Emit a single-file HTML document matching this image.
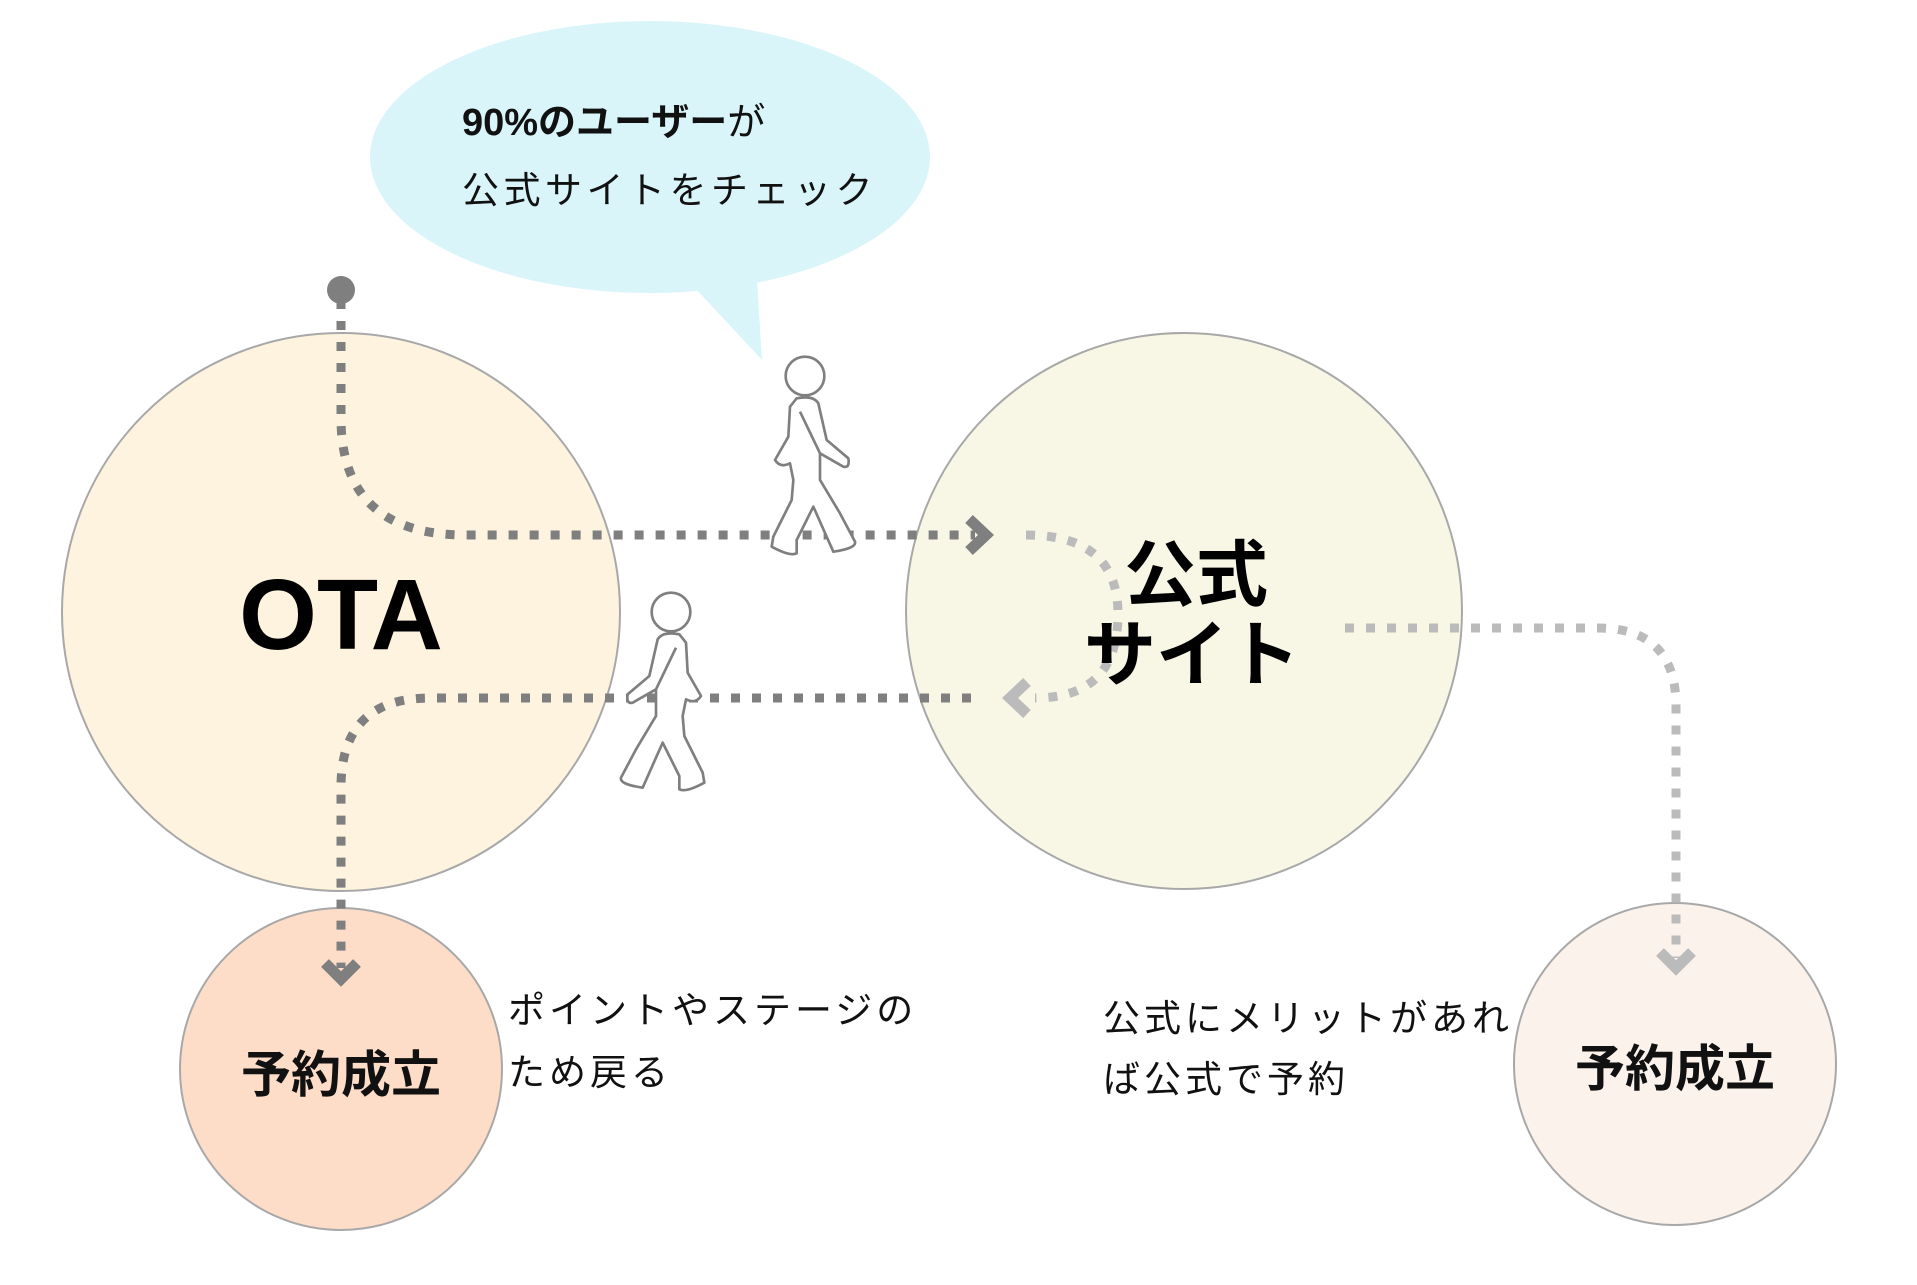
<!DOCTYPE html>
<html><head><meta charset="utf-8"><style>
html,body{margin:0;padding:0;background:#fff;}
svg{display:block;}
text{font-family:"Liberation Sans","Noto Sans CJK JP",sans-serif;}
</style></head><body>
<svg width="1917" height="1285" viewBox="0 0 1917 1285" xmlns="http://www.w3.org/2000/svg">
<ellipse cx="650" cy="157" rx="280" ry="136" fill="#d9f5fa"/>
<polygon points="695,288 757,280 762,360" fill="#d9f5fa"/>
<text x="462" y="135" font-size="38" font-weight="bold" fill="#111">90%のユーザー<tspan font-weight="normal">が</tspan></text>
<text x="462" y="203" font-size="37" fill="#111" letter-spacing="4.5">公式サイトをチェック</text>

<circle cx="341" cy="612" r="279" fill="#fdf3df" stroke="#a8a8a8" stroke-width="2"/>
<circle cx="1184" cy="611" r="278" fill="#f8f7e6" stroke="#a8a8a8" stroke-width="2"/>
<circle cx="341" cy="1069" r="161" fill="#fddcc8" stroke="#a8a8a8" stroke-width="2"/>
<circle cx="1675" cy="1064" r="161" fill="#fcf2ec" stroke="#a8a8a8" stroke-width="2"/>

<circle cx="341" cy="290" r="14" fill="#7f7f7f"/>
<path d="M341 300 V418 Q341 535 466 535 H975" fill="none" stroke="#7f7f7f" stroke-width="9" stroke-dasharray="9 12"/>
<polyline points="969,519 986,535 969,551" fill="none" stroke="#7f7f7f" stroke-width="11"/>
<path d="M971 698 H430 Q341 698 341 787 V968" fill="none" stroke="#7f7f7f" stroke-width="9" stroke-dasharray="9 12"/>
<polyline points="325,963 341,979 357,963" fill="none" stroke="#7f7f7f" stroke-width="11"/>

<path d="M1026 535 Q1118 535 1118 614 Q1118 698 1035 698" fill="none" stroke="#bbbbbb" stroke-width="9" stroke-dasharray="9 12"/>
<polyline points="1027,682 1010,698 1027,714" fill="none" stroke="#bbbbbb" stroke-width="11"/>
<path d="M1345 628 H1598 Q1676 628 1676 706 V958" fill="none" stroke="#bbbbbb" stroke-width="9" stroke-dasharray="9 12"/>
<polyline points="1660,952 1676,968 1692,952" fill="none" stroke="#bbbbbb" stroke-width="11"/>

<g fill="#fff" stroke="#7f7f7f" stroke-width="8" stroke-linejoin="round">
 <g transform="translate(805,376) scale(0.3333) translate(-615,-108)">
  <circle cx="615" cy="108" r="58"/>
  <path d="M590,175 Q640,165 655,190 L680,300 L745,355 Q750,385 730,380 L660,340 L660,420 L720,520 L765,605 Q770,625 700,635 L640,500 L590,600 L590,640 Q570,650 515,620 L520,590 L575,480 L580,420 L570,370 Q540,385 525,360 L565,290 L570,200 Z"/>
  <path d="M600,215 L660,340" fill="none"/>
 </g>
 <g transform="translate(671,612) scale(-0.3333,0.3333) translate(-615,-108)">
  <circle cx="615" cy="108" r="58"/>
  <path d="M590,175 Q640,165 655,190 L680,300 L745,355 Q750,385 730,380 L660,340 L660,420 L720,520 L765,605 Q770,625 700,635 L640,500 L590,600 L590,640 Q570,650 515,620 L520,590 L575,480 L580,420 L570,370 Q540,385 525,360 L565,290 L570,200 Z"/>
  <path d="M600,215 L660,340" fill="none"/>
 </g>
</g>

<text x="341" y="649" font-size="100" font-weight="bold" text-anchor="middle" fill="#000">OTA</text>
<text x="1196" y="600" font-size="72" font-weight="bold" text-anchor="middle" fill="#000">公式</text>
<text x="1192" y="680" font-size="72" font-weight="bold" text-anchor="middle" fill="#000">サイト</text>
<text x="341" y="1092" font-size="50" font-weight="bold" text-anchor="middle" fill="#111">予約成立</text>
<text x="1675" y="1086" font-size="50" font-weight="bold" text-anchor="middle" fill="#111">予約成立</text>
<text x="508" y="1023" font-size="37" fill="#111" letter-spacing="4">ポイントやステージの</text>
<text x="508" y="1085" font-size="37" fill="#111" letter-spacing="4">ため戻る</text>
<text x="1103" y="1031" font-size="37" fill="#111" letter-spacing="4">公式にメリットがあれ</text>
<text x="1103" y="1092" font-size="37" fill="#111" letter-spacing="4">ば公式で予約</text>
</svg>
</body></html>
